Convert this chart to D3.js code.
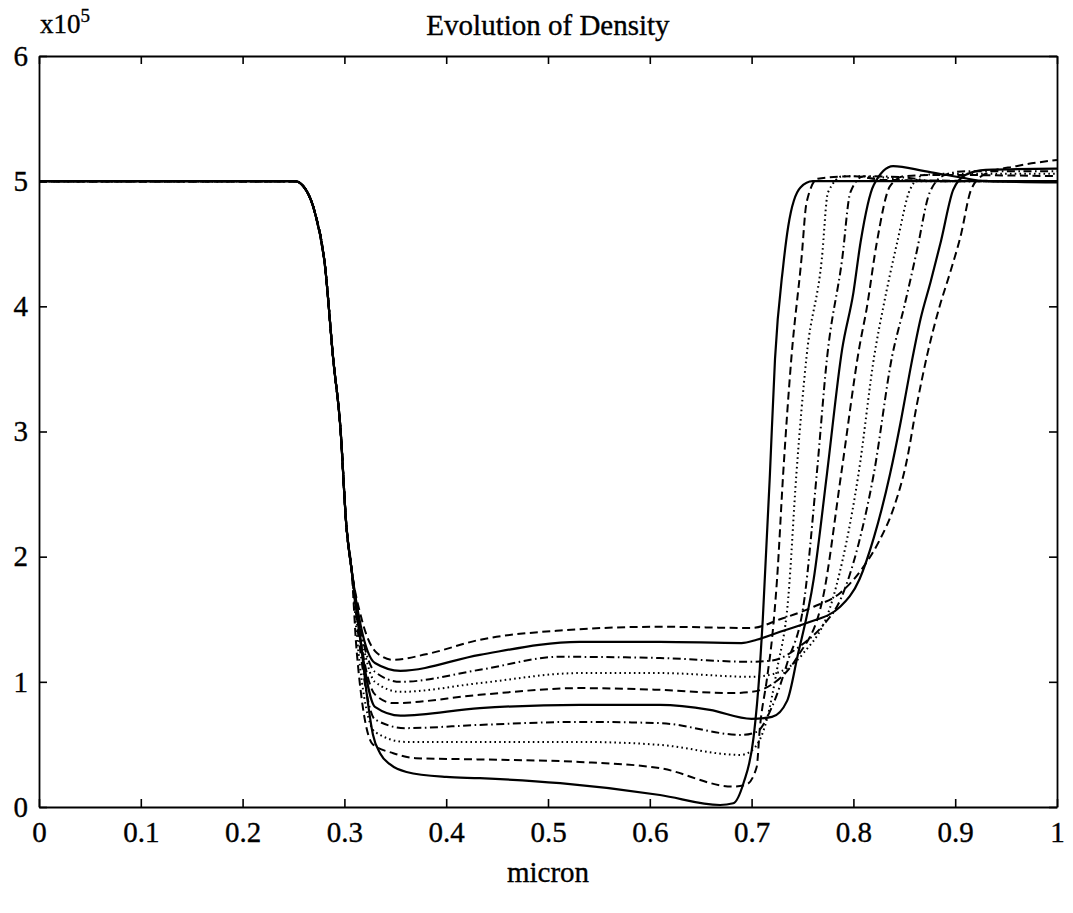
<!DOCTYPE html>
<html>
<head>
<meta charset="utf-8">
<script src="https://cdn.jsdelivr.net/npm/d3@7"></script>
<style>
  html, body { margin: 0; padding: 0; background: #fff; }
  svg { display: block; }
  text { font-family: "Liberation Serif", "DejaVu Serif", serif; fill: #000; stroke: #000; stroke-width: 0.35px; }
</style>
</head>
<body>
<svg id="chart" width="1073" height="913"></svg>
<script>
// ---- data (density in units of 1e5, position in micron) ----
const titleText = "Evolution of Density";
const xLabelText = "micron";
const xTicks = [0, 0.1, 0.2, 0.3, 0.4, 0.5, 0.6, 0.7, 0.8, 0.9, 1];
const xTickLabels = ["0", "0.1", "0.2", "0.3", "0.4", "0.5", "0.6", "0.7", "0.8", "0.9", "1"];
const yTicks = [0, 1, 2, 3, 4, 5, 6];
const yTickLabels = ["0", "1", "2", "3", "4", "5", "6"];

// shared left part of every profile
const commonDrop = [[0,5],[0.25,5],[0.2515,5],[0.263,4.92],[0.271,4.75],[0.281,4.32],[0.289,3.58],[0.296,3.04],[0.302,2.24],[0.307,1.9]];

const tail0 = [[0.315,1.4],[0.322,0.9],[0.328,0.58],[0.335,0.43],[0.345,0.34],[0.361,0.28],[0.4,0.24],[0.433,0.23],[0.512,0.19],[0.61,0.096],[0.669,0.016],[0.682,0.03],[0.692,0.19],[0.702,0.56],[0.708,1.1],[0.711,1.5],[0.718,2.66],[0.723,3.58],[0.731,4.32],[0.736,4.64],[0.748,4.95],[0.76,5.0],[1.0,5.0]];
const tail1 = [[0.312,1.25],[0.328,0.5],[0.348,0.43],[0.37,0.39],[0.433,0.38],[0.531,0.36],[0.61,0.31],[0.682,0.163],[0.695,0.18],[0.705,0.32],[0.708,0.62],[0.715,1.02],[0.72,1.34],[0.725,1.82],[0.731,2.66],[0.739,3.58],[0.749,4.38],[0.754,4.83],[0.765,5.02],[0.8,5.04],[0.83,5.01],[1.0,5.0]];
const tail2 = [[0.313,1.3],[0.33,0.6],[0.36,0.52],[0.433,0.52],[0.531,0.52],[0.61,0.496],[0.689,0.416],[0.70,0.45],[0.715,0.7],[0.725,1.1],[0.736,1.67],[0.744,2.66],[0.754,3.6],[0.769,4.38],[0.775,4.91],[0.79,5.04],[0.83,5.03],[0.86,5.0],[1.0,5.0]];
const tail3 = [[0.314,1.35],[0.33,0.7],[0.36,0.63],[0.433,0.656],[0.531,0.68],[0.61,0.67],[0.69,0.576],[0.705,0.6],[0.72,0.8],[0.735,1.15],[0.752,1.67],[0.764,2.66],[0.774,3.58],[0.789,4.38],[0.797,4.91],[0.81,5.04],[0.85,5.03],[0.88,5.0],[1.0,5.0]];
const tail4 = [[0.315,1.37],[0.33,0.8],[0.355,0.73],[0.433,0.79],[0.531,0.816],[0.61,0.816],[0.659,0.776],[0.70,0.704],[0.72,0.72],[0.735,0.85],[0.745,1.2],[0.761,1.82],[0.774,2.66],[0.789,3.66],[0.80,4.11],[0.807,4.51],[0.82,4.97],[0.839,5.12],[0.87,5.08],[0.905,5.03],[0.93,5.0],[1.0,4.99]];
const tail5 = [[0.315,1.38],[0.33,0.9],[0.348,0.83],[0.433,0.896],[0.531,0.95],[0.61,0.936],[0.68,0.91],[0.70,0.92],[0.72,0.98],[0.745,1.2],[0.77,1.67],[0.788,2.66],[0.806,3.68],[0.813,3.98],[0.823,4.51],[0.836,4.96],[0.85,5.04],[0.88,5.05],[1.0,5.04]];
const tail6 = [[0.316,1.4],[0.33,1.0],[0.355,0.92],[0.433,0.99],[0.531,1.07],[0.61,1.07],[0.70,1.04],[0.72,1.06],[0.75,1.22],[0.78,1.67],[0.805,2.66],[0.821,3.63],[0.829,3.98],[0.843,4.51],[0.856,4.94],[0.87,5.05],[0.9,5.06],[1.0,5.06]];
const tail7 = [[0.316,1.42],[0.33,1.08],[0.355,1.0],[0.433,1.096],[0.512,1.2],[0.61,1.19],[0.70,1.16],[0.72,1.17],[0.75,1.3],[0.77,1.45],[0.788,1.67],[0.805,2.1],[0.82,2.66],[0.838,3.6],[0.85,4.0],[0.862,4.43],[0.875,4.91],[0.89,5.05],[0.91,5.08],[1.0,5.08]];
const tail8 = [[0.316,1.45],[0.33,1.15],[0.355,1.088],[0.433,1.216],[0.531,1.32],[0.61,1.32],[0.69,1.31],[0.705,1.336],[0.728,1.4],[0.754,1.47],[0.787,1.6],[0.806,1.82],[0.82,2.15],[0.836,2.66],[0.847,3.1],[0.856,3.5],[0.866,3.9],[0.876,4.2],[0.886,4.52],[0.898,4.93],[0.91,5.05],[0.93,5.09],[1.0,5.1]];
const tail9 = [[0.317,1.5],[0.332,1.23],[0.348,1.176],[0.38,1.22],[0.433,1.336],[0.512,1.41],[0.61,1.44],[0.70,1.43],[0.728,1.5],[0.761,1.6],[0.787,1.71],[0.81,1.92],[0.825,2.12],[0.84,2.4],[0.852,2.75],[0.862,3.2],[0.873,3.63],[0.884,3.98],[0.895,4.27],[0.905,4.55],[0.916,4.94],[0.93,5.06],[0.96,5.12],[1.0,5.17]];

const tails = [tail0, tail1, tail2, tail3, tail4, tail5, tail6, tail7, tail8, tail9];

// ---- layout ----
const svg = d3.select("#chart");
const plotL = 39, plotR = 1057, plotT = 56, plotB = 807;
const x = d3.scaleLinear().domain([0, 1]).range([plotL, plotR]);
const y = d3.scaleLinear().domain([0, 6]).range([plotB, plotT]);

const dashFor = ["none", "8,4.5", "1.6,3.2", "8,3.5,1.6,3.5"];

const line = d3.line()
  .x(d => x(d[0]))
  .y(d => y(d[1]))
  .curve(d3.curveMonotoneX);

const curves = svg.append("g");
tails.forEach((t, i) => {
  const pts = commonDrop.concat(t);
  curves.append("path")
    .attr("d", line(pts))
    .attr("fill", "none")
    .attr("stroke", "#000")
    .attr("stroke-width", i % 4 === 0 ? 2.2 : 2.0)
    .attr("stroke-linejoin", "round")
    .attr("stroke-dasharray", dashFor[i % 4]);
});

// ---- axes (ticks inward on all four sides) ----
const fontSize = 29;
const axB = d3.axisBottom(x).tickValues(xTicks).tickFormat((d, i) => xTickLabels[i]).tickSize(-8).tickSizeOuter(0).tickPadding(14);
const axT = d3.axisTop(x).tickValues(xTicks).tickFormat("").tickSize(-8).tickSizeOuter(0);
const axL = d3.axisLeft(y).tickValues(yTicks).tickFormat((d, i) => yTickLabels[i]).tickSize(-8).tickSizeOuter(0).tickPadding(11);
const axR = d3.axisRight(y).tickValues(yTicks).tickFormat("").tickSize(-8).tickSizeOuter(0);

function style(g) {
  g.selectAll("path.domain").attr("stroke", "#000").attr("stroke-width", 1.8);
  g.selectAll(".tick line").attr("stroke", "#000").attr("stroke-width", 1.6);
  g.selectAll("text").attr("font-family", "Liberation Serif, serif").attr("font-size", fontSize).attr("fill", "#000");
}
svg.append("g").attr("transform", `translate(0,${plotB})`).call(axB).call(style);
svg.append("g").attr("transform", `translate(0,${plotT})`).call(axT).call(style);
svg.append("g").attr("transform", `translate(${plotL},0)`).call(axL).call(style);
svg.append("g").attr("transform", `translate(${plotR},0)`).call(axR).call(style);

// ---- texts ----
svg.append("text")
  .attr("x", (plotL + plotR) / 2).attr("y", 35)
  .attr("text-anchor", "middle").attr("font-size", fontSize)
  .text(titleText);

const mult = svg.append("text").attr("x", 40).attr("y", 33).attr("font-size", 27);
mult.append("tspan").text("x10");
mult.append("tspan").attr("font-size", 19).attr("dy", -11).text("5");

svg.append("text")
  .attr("x", (plotL + plotR) / 2).attr("y", 882)
  .attr("text-anchor", "middle").attr("font-size", fontSize)
  .text(xLabelText);
</script>
</body>
</html>
